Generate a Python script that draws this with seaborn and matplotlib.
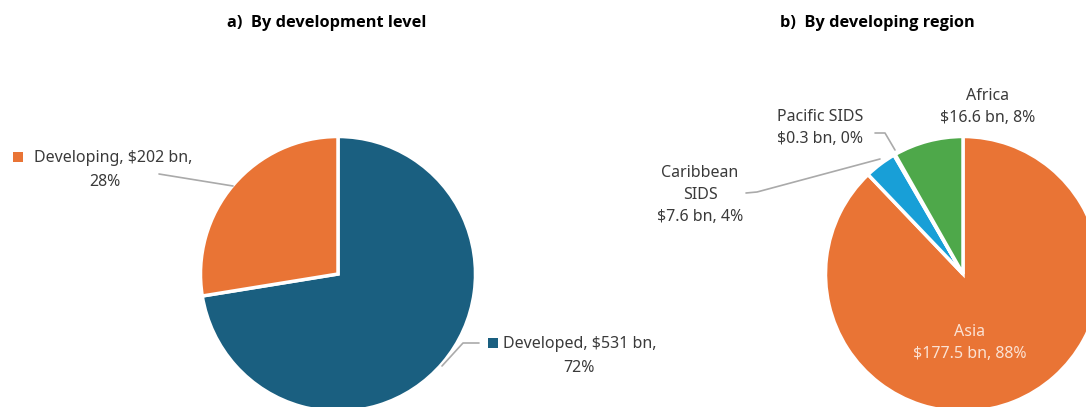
import matplotlib
matplotlib.use("Agg")
import matplotlib.pyplot as plt
import seaborn as sns

# ---- data ----
dev_labels = ["Developed", "Developing"]
dev_values = [531, 202]
reg_labels = ["Asia", "Caribbean\nSIDS", "Pacific SIDS", "Africa"]
reg_values = [177.5, 7.6, 0.3, 16.6]
titles = ["a)  By development level", "b)  By developing region"]

dev_colors = ["#1A5F80", "#E97435"]
reg_colors = ["#E97435", "#189FD7", "#189FD7", "#4EA84A"]

sns.set_theme(style="white")
plt.rcParams["font.family"] = ["Noto Sans", "DejaVu Sans"]

W, H = 1086, 407
fig = plt.figure(figsize=(W / 100, H / 100), dpi=100)
ax = fig.add_axes([0, 0, 1, 1])

def Y(py):
    return H - py

txt = "#3A3A3A"
lead = "#AAAAAA"
fs = 11.5
ls = 1.5

# pies
ax.pie(dev_values, colors=dev_colors, startangle=90, counterclock=False,
       center=(338, Y(274)), radius=137.5, frame=True,
       wedgeprops=dict(edgecolor="white", linewidth=2.5))
ax.pie(reg_values, colors=reg_colors, startangle=90, counterclock=False,
       center=(963, Y(274)), radius=137.5, frame=True,
       wedgeprops=dict(edgecolor="white", linewidth=2.5))
ax.set_xlim(0, W)
ax.set_ylim(0, H)
ax.set_aspect("auto")
ax.axis("off")

# titles
for x, t in zip([327, 877], titles):
    ax.text(x, Y(23), t, ha="center", va="center", fontsize=11.8,
            fontweight="bold", color="black", family=["Open Sans", "DejaVu Sans"])

dev_tot = sum(dev_values)
dev_pct = [round(v / dev_tot * 100) for v in dev_values]
reg_tot = sum(reg_values)
reg_pct = [round(v / reg_tot * 100) for v in reg_values]

# left labels
ax.text(192, Y(158.5), f"{dev_labels[1]}, ${dev_values[1]} bn,", ha="right", va="center",
        fontsize=fs, color=txt)
ax.text(105, Y(181.5), f"{dev_pct[1]}%", ha="center", va="center",
        fontsize=fs, color=txt)
ax.scatter([18], [Y(157)], marker="s", s=55, color=dev_colors[1], linewidths=0)
ax.plot([159, 233], [Y(174), Y(186)], color=lead, lw=1.2)

ax.text(503, Y(344.5), f"{dev_labels[0]}, ${dev_values[0]} bn,", ha="left", va="center",
        fontsize=fs, color=txt)
ax.text(579, Y(367.5), f"{dev_pct[0]}%", ha="center", va="center",
        fontsize=fs, color=txt)
ax.scatter([493], [Y(343)], marker="s", s=55, color=dev_colors[0], linewidths=0)
ax.plot([442, 463, 479], [Y(366), Y(343), Y(343)], color=lead, lw=1.2)

# right labels
ax.text(970, Y(343), f"{reg_labels[0]}\n${reg_values[0]} bn, {reg_pct[0]}%", ha="center",
        va="center", fontsize=fs, color="#FBE2D4", linespacing=ls)
ax.text(700, Y(195), f"{reg_labels[1]}\n${reg_values[1]} bn, {reg_pct[1]}%", ha="center",
        va="center", fontsize=fs, color=txt, linespacing=ls)
ax.plot([746, 757, 880], [Y(193), Y(192), Y(159)], color=lead, lw=1.2)
ax.text(820, Y(128), f"{reg_labels[2]}\n${reg_values[2]} bn, {reg_pct[2]}%", ha="center",
        va="center", fontsize=fs, color=txt, linespacing=ls)
ax.plot([875, 885, 895], [Y(133), Y(133), Y(150)], color=lead, lw=1.2)
ax.text(988, Y(107), f"{reg_labels[3]}\n${reg_values[3]} bn, {reg_pct[3]}%", ha="center",
        va="center", fontsize=fs, color=txt, linespacing=ls)

fig.savefig("out.png", dpi=100)
